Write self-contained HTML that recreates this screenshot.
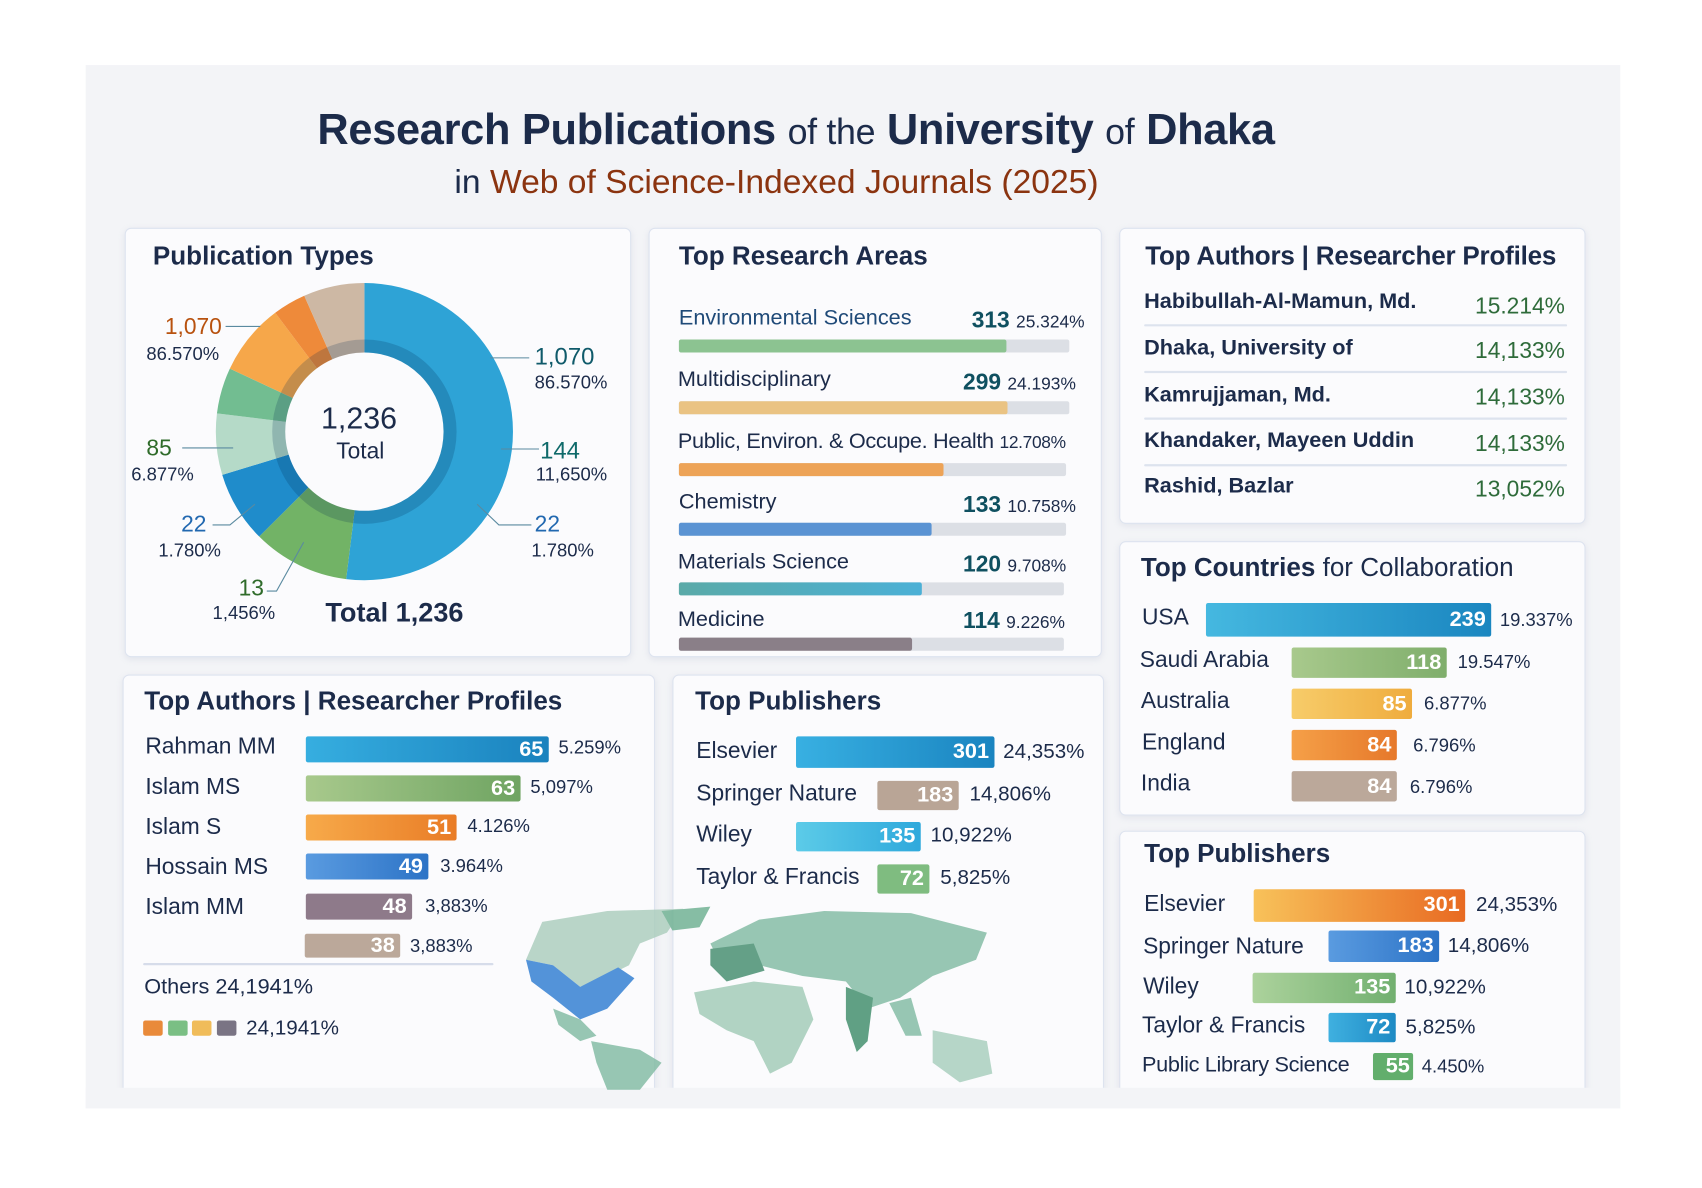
<!DOCTYPE html>
<html><head><meta charset="utf-8"><style>
*{margin:0;padding:0;box-sizing:border-box}
body{width:1702px;height:1188px;background:#fff;overflow:hidden;font-family:"Liberation Sans",sans-serif;color:#1c2b4a}
#w{position:absolute;left:0;top:0;width:1560px;height:1089px;transform:scale(1.0845);transform-origin:0 0}
.a{position:absolute;white-space:nowrap}
.p{position:absolute;background:#fbfbfd;border:1.5px solid #dde3ef;border-radius:6px;box-shadow:0 2px 6px rgba(150,160,190,.18)}
.h{font-size:24px;font-weight:bold;color:#1c2b4a}
.b{position:absolute;border-radius:2px}
.v{position:absolute;color:#fff;font-weight:bold;font-size:20px;text-align:right;padding-right:5px}
.t{font-size:21px;color:#1c2b4a}
.s{font-size:17px;color:#1c2b4a}
</style></head><body><div id="w">
<div style="position:absolute;left:79px;top:60px;width:1415px;height:962px;background:#f3f4f7"></div>
<div class="a" style="left:0;width:1468px;text-align:center;top:98px;font-size:40px;font-weight:bold;color:#1c2b4a;letter-spacing:-0.3px">Research Publications <span style="font-weight:normal;font-size:33px">of the</span> University <span style="font-weight:normal;font-size:33px">of</span> Dhaka</div>
<div class="a" style="left:0;width:1432px;text-align:center;top:150px;font-size:31px;color:#8b3410">
<span style="color:#1c2b4a">in</span> Web of Science-Indexed Journals (2025)</div>

<div class="p" style="left:115px;top:210px;width:467px;height:396px"></div>
<div class="p" style="left:598px;top:210px;width:418px;height:396px"></div>
<div class="p" style="left:1032px;top:210px;width:430px;height:273px"></div>
<div class="p" style="left:1032px;top:499px;width:430px;height:253px"></div>
<div class="p" style="left:113px;top:622px;width:491px;height:390px"></div>
<div class="p" style="left:620px;top:622px;width:398px;height:390px"></div>
<div class="p" style="left:1032px;top:766px;width:430px;height:246px"></div>
<div style="position:absolute;left:79px;top:1003px;width:1415px;height:19px;background:#f3f4f7"></div>

<div class="a h" style="left:141px;top:223px">Publication Types</div>
<svg style="position:absolute;left:0;top:0" width="600" height="620">
<g transform="rotate(-90 336 398)" fill="none" stroke-width="64">
<circle cx="336" cy="398" r="105" stroke="#2ea3d6" stroke-dasharray="342.7 1000" stroke-dashoffset="0"/>
<circle cx="336" cy="398" r="105" stroke="#72b366" stroke-dasharray="69.6 1000" stroke-dashoffset="-342.7"/>
<circle cx="336" cy="398" r="105" stroke="#1f8ccb" stroke-dasharray="51.3 1000" stroke-dashoffset="-412.3"/>
<circle cx="336" cy="398" r="105" stroke="#b5dac8" stroke-dasharray="44 1000" stroke-dashoffset="-463.6"/>
<circle cx="336" cy="398" r="105" stroke="#72bd91" stroke-dasharray="33 1000" stroke-dashoffset="-507.6"/>
<circle cx="336" cy="398" r="105" stroke="#f6a74a" stroke-dasharray="51.3 1000" stroke-dashoffset="-540.6"/>
<circle cx="336" cy="398" r="105" stroke="#ee8a3a" stroke-dasharray="23.8 1000" stroke-dashoffset="-591.9"/>
<circle cx="336" cy="398" r="105" stroke="#cdb8a4" stroke-dasharray="44 1000" stroke-dashoffset="-615.7"/>
<circle cx="336" cy="398" r="79" stroke="rgba(0,40,80,.2)" stroke-width="12"/>
</g>
<g stroke="#5a8aa0" stroke-width="1" fill="none">
<path d="M208 301H240"/><path d="M452 330H488"/><path d="M168 413H215"/><path d="M462 414H497"/>
<path d="M196 484H212L235 465"/><path d="M440 465L460 484H490"/><path d="M246 545H255L280 500"/>
</g></svg>
<div class="a" style="left:296px;top:370px;font-size:28px;color:#1c2b4a">1,236</div>
<div class="a" style="left:310px;top:405px;font-size:21px">Total</div>
<div class="a" style="left:300px;top:551px;font-size:25px;font-weight:bold">Total 1,236</div>
<div class="a" style="left:152px;top:290px;font-size:21px;color:#b8520f">1,070</div>
<div class="a s" style="left:135px;top:317px">86.570%</div>
<div class="a" style="left:493px;top:316px;font-size:22px;color:#0f5a6a">1,070</div>
<div class="a s" style="left:493px;top:343px">86.570%</div>
<div class="a" style="left:135px;top:402px;font-size:21px;color:#2f6b2a">85</div>
<div class="a s" style="left:121px;top:428px">6.877%</div>
<div class="a" style="left:498px;top:403px;font-size:22px;color:#0f6a6a">144</div>
<div class="a s" style="left:494px;top:428px">11,650%</div>
<div class="a" style="left:167px;top:472px;font-size:21px;color:#2168b0">22</div>
<div class="a s" style="left:146px;top:498px">1.780%</div>
<div class="a" style="left:493px;top:472px;font-size:21px;color:#2168b0">22</div>
<div class="a s" style="left:490px;top:498px">1.780%</div>
<div class="a" style="left:220px;top:531px;font-size:21px;color:#2f6b2a">13</div>
<div class="a s" style="left:196px;top:556px">1,456%</div>

<div class="a h" style="left:626px;top:223px">Top Research Areas</div>
<div class="a t" style="left:626px;top:282px;font-size:20px;color:#1f4a78">Environmental Sciences</div>
<div class="a" style="left:896px;top:284px;font-size:21px;font-weight:bold;color:#0f5060">313 <span style="font-size:16px;font-weight:normal;color:#1c2b4a">25.324%</span></div>
<div class="b" style="left:626px;top:313px;width:360px;height:12px;background:#dcdfe5"></div><div class="b" style="left:626px;top:313px;width:302px;height:12px;background:#8cc391"></div>
<div class="a t" style="left:625px;top:339px;font-size:20px">Multidisciplinary</div>
<div class="a" style="left:888px;top:341px;font-size:21px;font-weight:bold;color:#0f5060">299 <span style="font-size:16px;font-weight:normal;color:#1c2b4a">24.193%</span></div>
<div class="b" style="left:626px;top:370px;width:360px;height:12px;background:#dcdfe5"></div><div class="b" style="left:626px;top:370px;width:303px;height:12px;background:#eac383"></div>
<div class="a t" style="left:625px;top:396px;font-size:20px;letter-spacing:-0.3px">Public, Environ. &amp; Occupe. Health <span style="font-size:16px">12.708%</span></div>
<div class="b" style="left:626px;top:427px;width:357px;height:12px;background:#dcdfe5"></div><div class="b" style="left:626px;top:427px;width:244px;height:12px;background:#eda357"></div>
<div class="a t" style="left:626px;top:452px;font-size:20px">Chemistry</div>
<div class="a" style="left:888px;top:454px;font-size:21px;font-weight:bold;color:#0f5060">133 <span style="font-size:16px;font-weight:normal;color:#1c2b4a">10.758%</span></div>
<div class="b" style="left:626px;top:482px;width:357px;height:12px;background:#dcdfe5"></div><div class="b" style="left:626px;top:482px;width:233px;height:12px;background:#5a93d3"></div>
<div class="a t" style="left:625px;top:507px;font-size:20px">Materials Science</div>
<div class="a" style="left:888px;top:509px;font-size:21px;font-weight:bold;color:#0f5060">120 <span style="font-size:16px;font-weight:normal;color:#1c2b4a">9.708%</span></div>
<div class="b" style="left:626px;top:537px;width:355px;height:12px;background:#dcdfe5"></div><div class="b" style="left:626px;top:537px;width:224px;height:12px;background:linear-gradient(90deg,#5aaaa8,#4bb0d6)"></div>
<div class="a t" style="left:625px;top:560px;font-size:20px">Medicine</div>
<div class="a" style="left:888px;top:561px;font-size:21px;font-weight:bold;color:#0f5060">114 <span style="font-size:16px;font-weight:normal;color:#1c2b4a">9.226%</span></div>
<div class="b" style="left:626px;top:588px;width:355px;height:12px;background:#dcdfe5"></div><div class="b" style="left:626px;top:588px;width:215px;height:12px;background:#8a7f88"></div>

<div class="a h" style="left:1056px;top:223px;letter-spacing:-0.2px">Top Authors | Researcher Profiles</div>
<div class="a" style="left:1055px;top:267px;font-size:20px;font-weight:bold">Habibullah-Al-Mamun, Md.</div>
<div class="a" style="left:1055px;top:310px;font-size:20px;font-weight:bold">Dhaka, University of</div>
<div class="a" style="left:1055px;top:353px;font-size:20px;font-weight:bold">Kamrujjaman, Md.</div>
<div class="a" style="left:1055px;top:395px;font-size:20px;font-weight:bold">Khandaker, Mayeen Uddin</div>
<div class="a" style="left:1055px;top:437px;font-size:20px;font-weight:bold">Rashid, Bazlar</div>
<div class="a" style="left:1300px;width:143px;text-align:right;top:271px;font-size:21px;color:#2e6b3a">15.214%</div>
<div class="a" style="left:1300px;width:143px;text-align:right;top:312px;font-size:21px;color:#2e6b3a">14,133%</div>
<div class="a" style="left:1300px;width:143px;text-align:right;top:355px;font-size:21px;color:#2e6b3a">14,133%</div>
<div class="a" style="left:1300px;width:143px;text-align:right;top:398px;font-size:21px;color:#2e6b3a">14,133%</div>
<div class="a" style="left:1300px;width:143px;text-align:right;top:440px;font-size:21px;color:#2e6b3a">13,052%</div>
<div class="b" style="left:1055px;top:299px;width:390px;height:2px;background:#dde3ee"></div>
<div class="b" style="left:1055px;top:342px;width:390px;height:2px;background:#dde3ee"></div>
<div class="b" style="left:1055px;top:385px;width:390px;height:2px;background:#dde3ee"></div>
<div class="b" style="left:1055px;top:428px;width:390px;height:2px;background:#dde3ee"></div>

<div class="a h" style="left:1052px;top:510px"><b>Top Countries</b> <span style="font-weight:normal">for Collaboration</span></div>
<div class="a t" style="left:1053px;top:558px">USA</div>
<div class="b" style="left:1112px;top:556px;width:263px;height:31px;background:linear-gradient(90deg,#45b8e0,#1a86c0)"></div><div class="v" style="left:1112px;top:560px;width:263px">239</div>
<div class="a s" style="left:1383px;top:562px">19.337%</div>
<div class="a t" style="left:1051px;top:597px">Saudi Arabia</div>
<div class="b" style="left:1191px;top:597px;width:143px;height:28px;background:linear-gradient(90deg,#a8c98c,#7fae6c)"></div><div class="v" style="left:1191px;top:600px;width:143px">118</div>
<div class="a s" style="left:1344px;top:601px">19.547%</div>
<div class="a t" style="left:1052px;top:635px">Australia</div>
<div class="b" style="left:1191px;top:635px;width:111px;height:28px;background:linear-gradient(90deg,#f7cc6a,#efac3e)"></div><div class="v" style="left:1191px;top:638px;width:111px">85</div>
<div class="a s" style="left:1313px;top:639px">6.877%</div>
<div class="a t" style="left:1053px;top:673px">England</div>
<div class="b" style="left:1191px;top:673px;width:97px;height:28px;background:linear-gradient(90deg,#f5a048,#e6782a)"></div><div class="v" style="left:1191px;top:676px;width:97px">84</div>
<div class="a s" style="left:1303px;top:678px">6.796%</div>
<div class="a t" style="left:1052px;top:711px">India</div>
<div class="b" style="left:1191px;top:711px;width:97px;height:28px;background:#bba89a"></div><div class="v" style="left:1191px;top:714px;width:97px">84</div>
<div class="a s" style="left:1300px;top:716px">6.796%</div>

<!-- map -->
<svg style="position:absolute;left:440px;top:830px" width="580" height="175" viewBox="0 0 580 175">
<g fill="#7fbaa0" opacity=".8">
<path d="M60 20 L120 10 L190 8 L175 30 L150 40 L140 60 L120 70 L95 80 L70 60 L45 55 Z" fill="#a9ccbb"/>
<path d="M45 55 L70 60 L95 80 L130 62 L145 72 L120 100 L95 110 L70 90 L50 75 Z" fill="#2a7ad0"/>
<path d="M70 100 L95 110 L110 125 L95 130 L75 115 Z"/>
<path d="M105 130 L150 138 L170 150 L150 175 L120 175 L110 150 Z"/>
<path d="M170 10 L215 6 L205 25 L180 28 Z" fill="#6aae8e"/>
<path d="M215 40 L260 18 L320 10 L400 12 L470 30 L460 55 L420 70 L390 90 L360 100 L340 75 L300 70 L260 60 L225 60 Z"/>
<path d="M215 45 L255 40 L265 65 L230 75 L215 60 Z" fill="#3f8a6a"/>
<path d="M200 85 L255 75 L300 80 L310 110 L290 150 L270 160 L255 130 L230 120 L205 105 Z" fill="#9fcab4"/>
<path d="M340 80 L365 90 L360 130 L350 140 L340 110 Z" fill="#3a8a66"/>
<path d="M380 95 L400 90 L410 125 L395 125 Z"/>
<path d="M420 120 L470 130 L475 160 L445 168 L420 150 Z" fill="#a5cdbb"/>
</g></svg>

<div class="a h" style="left:133px;top:633px">Top Authors | Researcher Profiles</div>
<div class="a t" style="left:134px;top:677px">Rahman MM</div>
<div class="b" style="left:282px;top:679px;width:224px;height:24px;background:linear-gradient(90deg,#36aee0,#1a82be)"></div><div class="v" style="left:282px;top:680px;width:224px">65</div>
<div class="a s" style="left:515px;top:680px">5.259%</div>
<div class="a t" style="left:134px;top:714px">Islam MS</div>
<div class="b" style="left:282px;top:715px;width:198px;height:24px;background:linear-gradient(90deg,#a8c98c,#6fa462)"></div><div class="v" style="left:282px;top:716px;width:198px">63</div>
<div class="a s" style="left:489px;top:716px">5,097%</div>
<div class="a t" style="left:134px;top:751px">Islam S</div>
<div class="b" style="left:282px;top:751px;width:139px;height:24px;background:linear-gradient(90deg,#f7aa4a,#e97c26)"></div><div class="v" style="left:282px;top:752px;width:139px">51</div>
<div class="a s" style="left:431px;top:752px">4.126%</div>
<div class="a t" style="left:134px;top:788px">Hossain MS</div>
<div class="b" style="left:282px;top:787px;width:113px;height:24px;background:linear-gradient(90deg,#5a9be0,#2c73c6)"></div><div class="v" style="left:282px;top:788px;width:113px">49</div>
<div class="a s" style="left:406px;top:789px">3.964%</div>
<div class="a t" style="left:134px;top:825px">Islam MM</div>
<div class="b" style="left:282px;top:824px;width:98px;height:24px;background:#8e7a8a"></div><div class="v" style="left:282px;top:825px;width:98px">48</div>
<div class="a s" style="left:392px;top:826px">3,883%</div>
<div class="b" style="left:281px;top:861px;width:88px;height:22px;background:#bba89a"></div><div class="v" style="left:281px;top:861px;width:88px">38</div>
<div class="a s" style="left:378px;top:863px">3,883%</div>
<div class="b" style="left:132px;top:888px;width:323px;height:2px;background:#d6dcea"></div>
<div class="a" style="left:133px;top:899px;font-size:20px">Others 24,1941%</div>
<div class="b" style="left:132px;top:941px;width:18px;height:14px;background:#e98a3a"></div>
<div class="b" style="left:155px;top:941px;width:18px;height:14px;background:#7abf84"></div>
<div class="b" style="left:177px;top:941px;width:18px;height:14px;background:#f0bc5a"></div>
<div class="b" style="left:200px;top:941px;width:18px;height:14px;background:#7a7484"></div>
<div class="a s" style="left:227px;top:938px;font-size:19px">24,1941%</div>

<div class="a h" style="left:641px;top:633px">Top Publishers</div>
<div class="a t" style="left:642px;top:681px">Elsevier</div>
<div class="b" style="left:734px;top:679px;width:183px;height:29px;background:linear-gradient(90deg,#38b0e2,#1a84c0)"></div><div class="v" style="left:734px;top:682px;width:183px">301</div>
<div class="a s" style="left:925px;top:683px;font-size:19px">24,353%</div>
<div class="a t" style="left:642px;top:720px">Springer Nature</div>
<div class="b" style="left:809px;top:720px;width:75px;height:27px;background:#b9a596"></div><div class="v" style="left:809px;top:722px;width:75px">183</div>
<div class="a s" style="left:894px;top:722px;font-size:19px">14,806%</div>
<div class="a t" style="left:642px;top:758px">Wiley</div>
<div class="b" style="left:734px;top:758px;width:115px;height:27px;background:linear-gradient(90deg,#5ccbe8,#2fa9dc)"></div><div class="v" style="left:734px;top:760px;width:115px">135</div>
<div class="a s" style="left:858px;top:760px;font-size:19px">10,922%</div>
<div class="a t" style="left:642px;top:797px">Taylor &amp; Francis</div>
<div class="b" style="left:809px;top:797px;width:48px;height:27px;background:#7fbc80"></div><div class="v" style="left:809px;top:799px;width:48px">72</div>
<div class="a s" style="left:867px;top:799px;font-size:19px">5,825%</div>

<div class="a h" style="left:1055px;top:774px">Top Publishers</div>
<div class="a t" style="left:1055px;top:822px">Elsevier</div>
<div class="b" style="left:1156px;top:820px;width:195px;height:30px;background:linear-gradient(90deg,#f8c25a,#e86a22)"></div><div class="v" style="left:1156px;top:823px;width:195px">301</div>
<div class="a s" style="left:1361px;top:824px;font-size:19px">24,353%</div>
<div class="a t" style="left:1054px;top:861px">Springer Nature</div>
<div class="b" style="left:1225px;top:858px;width:102px;height:29px;background:linear-gradient(90deg,#5a9be0,#2c73c6)"></div><div class="v" style="left:1225px;top:861px;width:102px">183</div>
<div class="a s" style="left:1335px;top:862px;font-size:19px">14,806%</div>
<div class="a t" style="left:1054px;top:898px">Wiley</div>
<div class="b" style="left:1155px;top:897px;width:132px;height:28px;background:linear-gradient(90deg,#acd29c,#72b070)"></div><div class="v" style="left:1155px;top:899px;width:132px">135</div>
<div class="a s" style="left:1295px;top:900px;font-size:19px">10,922%</div>
<div class="a t" style="left:1053px;top:934px">Taylor &amp; Francis</div>
<div class="b" style="left:1225px;top:934px;width:62px;height:27px;background:linear-gradient(90deg,#3fb0e0,#1d8ac4)"></div><div class="v" style="left:1225px;top:936px;width:62px">72</div>
<div class="a s" style="left:1296px;top:937px;font-size:19px">5,825%</div>
<div class="a t" style="left:1053px;top:971px;font-size:20px;letter-spacing:-0.3px">Public Library Science</div>
<div class="b" style="left:1266px;top:971px;width:37px;height:25px;background:#62ae6c"></div><div class="v" style="left:1266px;top:972px;width:37px;padding-right:3px">55</div>
<div class="a s" style="left:1311px;top:974px">4.450%</div>
</div></body></html>
